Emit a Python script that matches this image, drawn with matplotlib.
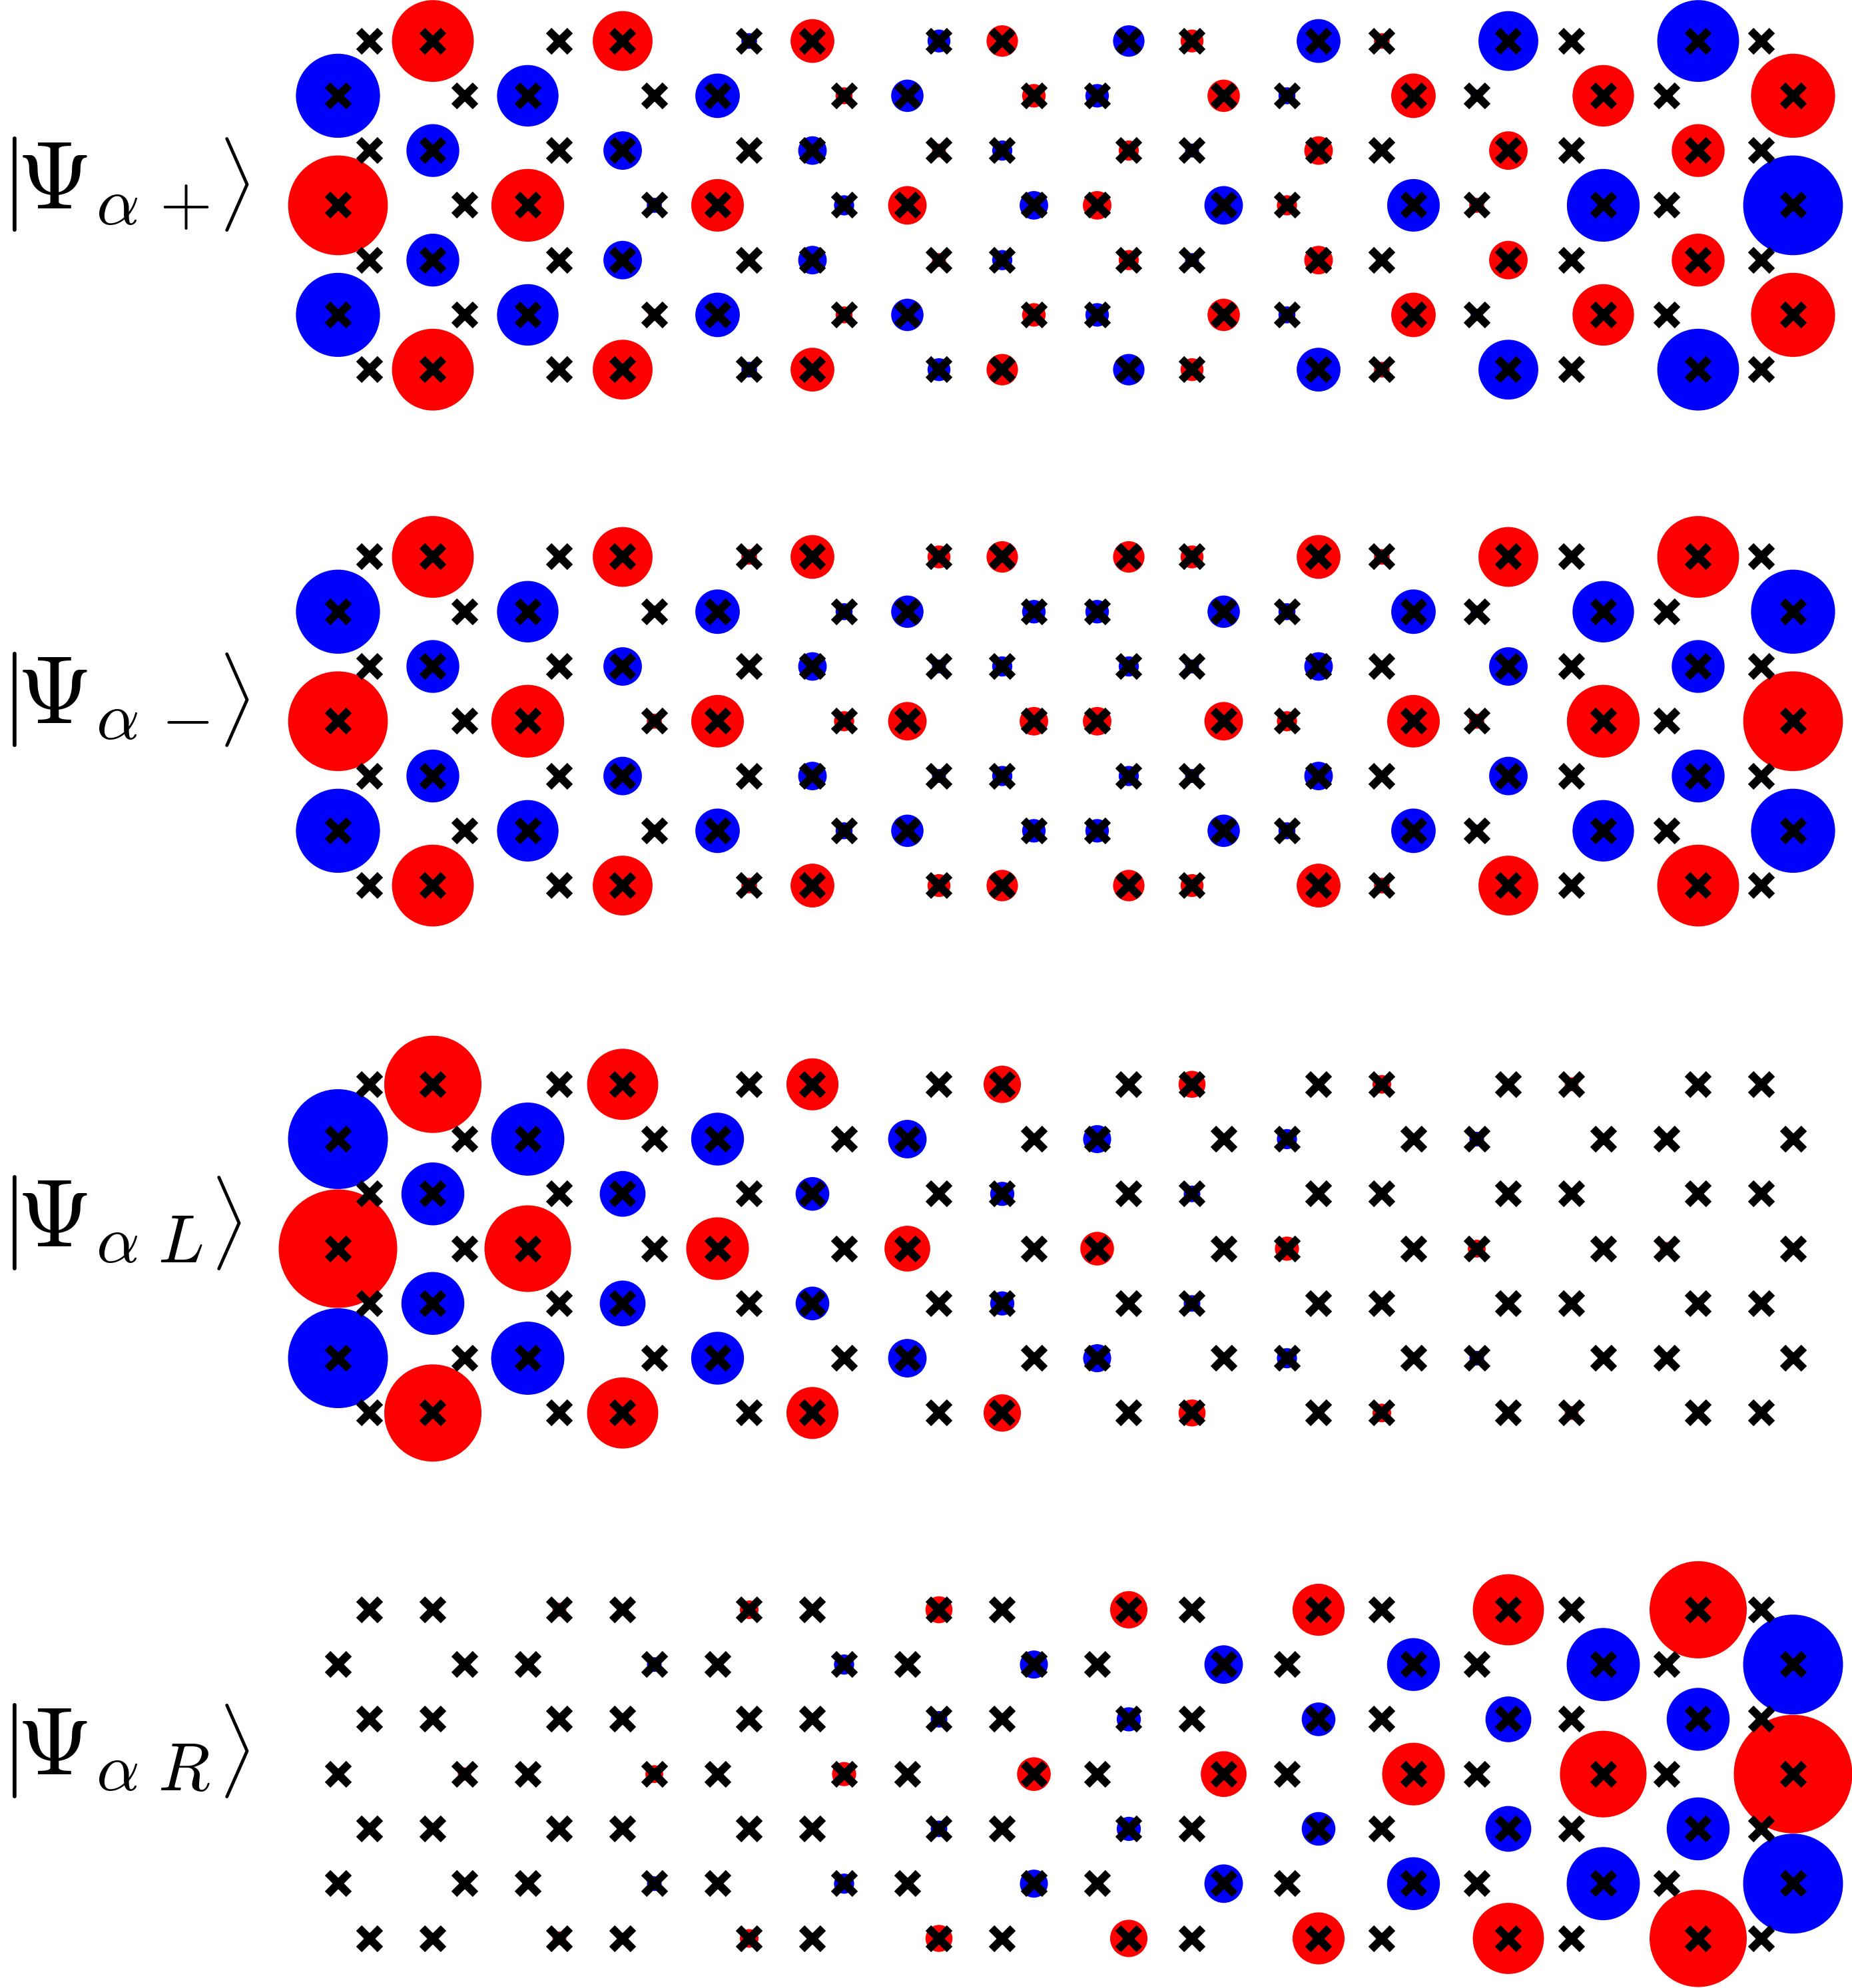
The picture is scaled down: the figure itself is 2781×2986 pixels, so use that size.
import numpy as np
import matplotlib
matplotlib.use('Agg')
import matplotlib.pyplot as plt
from matplotlib.patches import Circle
from matplotlib.textpath import TextPath

plt.rcParams['mathtext.fontset'] = 'cm'

# ---------------- data ----------------
# lattice site x positions (in C-C bond lengths), rows numbered from the top
even_row_x = [0.5, 1.5, 3.5, 4.5, 6.5, 7.5, 9.5, 10.5, 12.5, 13.5, 15.5, 16.5, 18.5, 19.5, 21.5, 22.5]
odd_row_x = [0, 2, 3, 5, 6, 8, 9, 11, 12, 14, 15, 17, 18, 20, 21, 23]
n_rows = 7

# signed wavefunction amplitudes on every site, rows 0..6, left to right
psi_plus = [
    [-0.0024, 0.230, -0.0047, 0.123, -0.0085, 0.066, -0.018, 0.034, -0.034, 0.018, -0.066, 0.0085, -0.123, 0.0047, -0.230, 0.0024],
    [-0.243, 0.0028, -0.130, 0.0052, -0.068, 0.0099, -0.036, 0.019, -0.019, 0.036, -0.0099, 0.068, -0.0052, 0.130, -0.0028, 0.243],
    [0.0009, -0.096, 0.0018, -0.051, 0.0035, -0.028, 0.0067, -0.014, 0.014, -0.0067, 0.028, -0.0035, 0.051, -0.0018, 0.096, -0.0009],
    [0.342, -0.0043, 0.182, -0.0078, 0.095, -0.014, 0.051, -0.028, 0.028, -0.051, 0.014, -0.095, 0.0078, -0.182, 0.0043, -0.342],
    [0.0009, -0.096, 0.0018, -0.051, 0.0035, -0.028, 0.0067, -0.014, 0.014, -0.0067, 0.028, -0.0035, 0.051, -0.0018, 0.096, -0.0009],
    [-0.243, 0.0028, -0.130, 0.0052, -0.068, 0.0099, -0.036, 0.019, -0.019, 0.036, -0.0099, 0.068, -0.0052, 0.130, -0.0028, 0.243],
    [-0.0024, 0.230, -0.0047, 0.123, -0.0085, 0.066, -0.018, 0.034, -0.034, 0.018, -0.066, 0.0085, -0.123, 0.0047, -0.230, 0.0024],
]
psi_minus = [
    [0.0024, 0.230, 0.0047, 0.123, 0.0085, 0.066, 0.018, 0.034, 0.034, 0.018, 0.066, 0.0085, 0.123, 0.0047, 0.230, 0.0024],
    [-0.243, -0.0028, -0.130, -0.0052, -0.068, -0.0099, -0.036, -0.019, -0.019, -0.036, -0.0099, -0.068, -0.0052, -0.130, -0.0028, -0.243],
    [-0.0009, -0.096, -0.0018, -0.051, -0.0035, -0.028, -0.0067, -0.014, -0.014, -0.0067, -0.028, -0.0035, -0.051, -0.0018, -0.096, -0.0009],
    [0.342, 0.0043, 0.182, 0.0078, 0.095, 0.014, 0.051, 0.028, 0.028, 0.051, 0.014, 0.095, 0.0078, 0.182, 0.0043, 0.342],
    [-0.0009, -0.096, -0.0018, -0.051, -0.0035, -0.028, -0.0067, -0.014, -0.014, -0.0067, -0.028, -0.0035, -0.051, -0.0018, -0.096, -0.0009],
    [-0.243, -0.0028, -0.130, -0.0052, -0.068, -0.0099, -0.036, -0.019, -0.019, -0.036, -0.0099, -0.068, -0.0052, -0.130, -0.0028, -0.243],
    [0.0024, 0.230, 0.0047, 0.123, 0.0085, 0.066, 0.018, 0.034, 0.034, 0.018, 0.066, 0.0085, 0.123, 0.0047, 0.230, 0.0024],
]
psi_L = [
    [0, 0.325, 0, 0.174, 0, 0.093, 0, 0.048, 0, 0.025, 0, 0.012, 0, 0.0067, 0, 0.0034],
    [-0.343, 0, -0.184, 0, -0.096, 0, -0.051, 0, -0.027, 0, -0.014, 0, -0.0074, 0, -0.0039, 0],
    [0, -0.136, 0, -0.072, 0, -0.039, 0, -0.020, 0, -0.0095, 0, -0.0049, 0, -0.0026, 0, -0.0013],
    [0.483, 0, 0.258, 0, 0.135, 0, 0.072, 0, 0.039, 0, 0.020, 0, 0.011, 0, 0.0061, 0],
    [0, -0.136, 0, -0.072, 0, -0.039, 0, -0.020, 0, -0.0095, 0, -0.0049, 0, -0.0026, 0, -0.0013],
    [-0.343, 0, -0.184, 0, -0.096, 0, -0.051, 0, -0.027, 0, -0.014, 0, -0.0074, 0, -0.0039, 0],
    [0, 0.325, 0, 0.174, 0, 0.093, 0, 0.048, 0, 0.025, 0, 0.012, 0, 0.0067, 0, 0.0034],
]
psi_R = [
    [0.0034, 0, 0.0067, 0, 0.012, 0, 0.025, 0, 0.048, 0, 0.093, 0, 0.174, 0, 0.325, 0],
    [0, -0.0039, 0, -0.0074, 0, -0.014, 0, -0.027, 0, -0.051, 0, -0.096, 0, -0.184, 0, -0.343],
    [-0.0013, 0, -0.0026, 0, -0.0049, 0, -0.0095, 0, -0.020, 0, -0.039, 0, -0.072, 0, -0.136, 0],
    [0, 0.0061, 0, 0.011, 0, 0.020, 0, 0.039, 0, 0.072, 0, 0.135, 0, 0.258, 0, 0.483],
    [-0.0013, 0, -0.0026, 0, -0.0049, 0, -0.0095, 0, -0.020, 0, -0.039, 0, -0.072, 0, -0.136, 0],
    [0, -0.0039, 0, -0.0074, 0, -0.014, 0, -0.027, 0, -0.051, 0, -0.096, 0, -0.184, 0, -0.343],
    [0.0034, 0, 0.0067, 0, 0.012, 0, 0.025, 0, 0.048, 0, 0.093, 0, 0.174, 0, 0.325, 0],
]
panels = [psi_plus, psi_minus, psi_L, psi_R]
label_subscripts = ['+', '-', 'L', 'R']   # ket labels |Psi_{alpha sub}>

# ---------------- layout ----------------
W, H, DPI = 2781, 2986, 100
PT = DPI / 72.0
S = 95.0             # pixels per bond length
X0 = 507.5           # pixel position of x = 0
ROW3_PX = [308.4, 1083.3, 1875.5, 2664.7]   # pixel y (from top) of the middle row
BASE_PX = [312.0, 1086.0, 1872.0, 2665.0]   # label baseline (from top)
SUB_RIGHT = [313.0, 313.0, 303.0, 314.0]    # right ink edge of subscript
KET_LEFT = [337.0, 337.0, 325.0, 337.0]     # left ink edge of the closing angle
HALF = 400.0
K = 1.348            # circle radius = K * sqrt(|psi|)  (bond lengths)
DY = np.sqrt(3) / 2


def ink(s, fs):
    e = TextPath((0, 0), s, size=fs).get_extents()
    return e.x0 * PT, e.x1 * PT, e.y0 * PT, e.y1 * PT


def put(s, fs, anchor_x, base_y):
    fig.text(anchor_x / W, 1 - base_y / H, s, fontsize=fs, ha='left', va='baseline')


fig = plt.figure(figsize=(W / DPI, H / DPI), dpi=DPI)
fig.patch.set_facecolor('white')

# font sizes fitted to glyph heights
x0, x1, y0, y1 = ink(r'$\Psi$', 100)
FS_BODY = 100 * 99.0 / (y1 - y0)
x0, x1, y0, y1 = ink(r'$|$', 100)
FS_BAR = 100 * 143.0 / (y1 - y0)
x0, x1, y0, y1 = ink(r'$\rangle$', 100)
FS_KET = 100 * 143.0 / (y1 - y0)

for p, (psi, sub, c) in enumerate(zip(panels, label_subscripts, ROW3_PX)):
    ax = fig.add_axes([0, (H - c - HALF) / H, 1, 2 * HALF / H])
    ax.set_xlim(-X0 / S, (W - X0) / S)
    yc = -3 * DY
    ax.set_ylim(yc - HALF / S, yc + HALF / S)
    ax.axis('off')
    xs_all, ys_all = [], []
    for r in range(n_rows):
        xr = even_row_x if r % 2 == 0 else odd_row_x
        y = -r * DY
        for x, v in zip(xr, psi[r]):
            xs_all.append(x)
            ys_all.append(y)
            if v != 0:
                col = '#ff0000' if v > 0 else '#0000ff'
                ax.add_patch(Circle((x, y), K * np.sqrt(abs(v)), facecolor=col,
                                    edgecolor='none', lw=0, zorder=2, clip_on=False))
    ax.plot(xs_all, ys_all, linestyle='none', marker='x', color='black',
            ms=23, mew=8.6, zorder=3, clip_on=False)

    # ----- label |Psi_{alpha sub}> -----
    base = BASE_PX[p]
    top, bottom = base - 107.0, base + 36.0
    # opening bar
    bx0, bx1, by0, by1 = ink(r'$|$', FS_BAR)
    put(r'$|$', FS_BAR, max(1.0, 3.0 - bx0), bottom + by0)
    # body: Psi with subscript, spacing fitted so the subscript ends at SUB_RIGHT
    body0 = r'$\Psi_{\alpha\hspace{0}' + sub + '}$'
    body1 = r'$\Psi_{\alpha\hspace{1}' + sub + '}$'
    a0, r0, _, _ = ink(body0, FS_BODY)
    _, r1, _, _ = ink(body1, FS_BODY)
    anchor = 33.0 - a0
    hs = (SUB_RIGHT[p] - anchor - r0) / (r1 - r0)
    body = r'$\Psi_{\alpha\hspace{%.3f}%s}$' % (hs, sub)
    put(body, FS_BODY, anchor, base)
    # closing angle
    kx0, kx1, ky0, ky1 = ink(r'$\rangle$', FS_KET)
    put(r'$\rangle$', FS_KET, KET_LEFT[p] - kx0, bottom + ky0)

fig.savefig('out.png', dpi=DPI, facecolor='white')
